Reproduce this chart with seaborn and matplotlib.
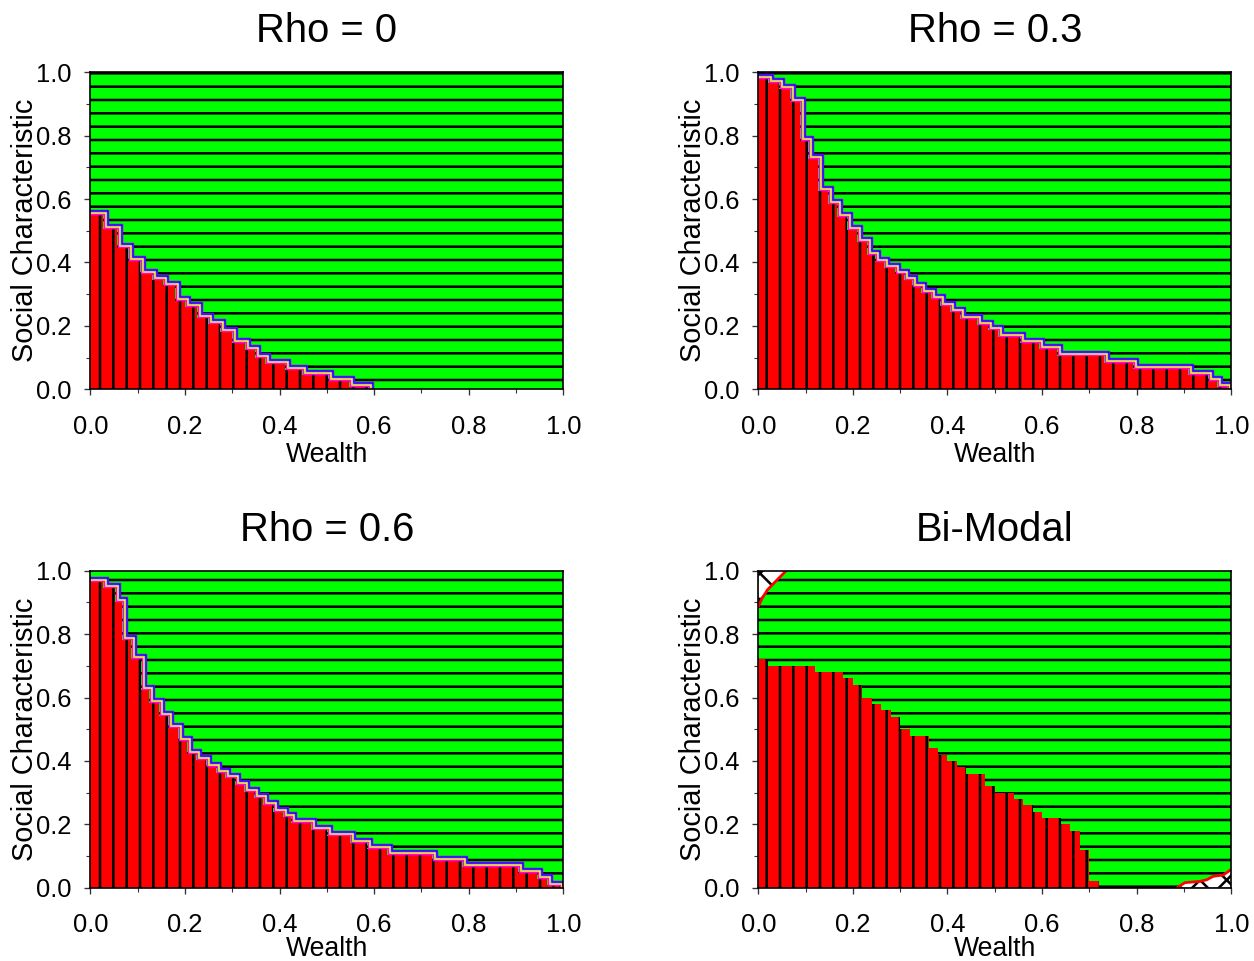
import numpy as np
import matplotlib
matplotlib.use("Agg")
import matplotlib.pyplot as plt
from matplotlib.ticker import MultipleLocator
import seaborn as sns

# step edges on the Wealth axis and height of the red region on the
# Social Characteristic axis
rho0_edges = [0, 0.027, 0.056, 0.080, 0.105, 0.130, 0.154, 0.179, 0.200, 0.225, 0.249,
              0.274, 0.299, 0.327, 0.348, 0.369, 0.411, 0.447, 0.503, 0.546, 0.588]
rho0_heights = [0.55, 0.505, 0.445, 0.405, 0.365, 0.345, 0.325, 0.28, 0.26, 0.225,
                0.205, 0.18, 0.145, 0.125, 0.10, 0.08, 0.06, 0.045, 0.025, 0.008]

rho3_edges = [0, 0.02, 0.044, 0.067, 0.088, 0.106, 0.127, 0.148, 0.166, 0.187, 0.208,
              0.229, 0.247, 0.266, 0.288, 0.307, 0.324, 0.345, 0.366, 0.384, 0.405,
              0.426, 0.462, 0.486, 0.507, 0.553, 0.593, 0.631, 0.730, 0.793, 0.909,
              0.951, 0.969, 0.990]
rho3_heights = [0.98, 0.965, 0.946, 0.905, 0.783, 0.726, 0.626, 0.584, 0.544, 0.503,
                0.464, 0.424, 0.403, 0.384, 0.363, 0.344, 0.324, 0.303, 0.284, 0.263,
                0.243, 0.222, 0.203, 0.187, 0.166, 0.145, 0.127, 0.105, 0.084, 0.064,
                0.045, 0.026, 0.008]

rho6_edges = [0, 0.027, 0.052, 0.066, 0.087, 0.108, 0.125, 0.145, 0.164, 0.185, 0.205,
              0.224, 0.245, 0.266, 0.284, 0.305, 0.325, 0.346, 0.365, 0.386, 0.407,
              0.425, 0.466, 0.501, 0.549, 0.584, 0.627, 0.722, 0.785, 0.905, 0.944,
              0.965, 0.990]
rho6_heights = [0.965, 0.944, 0.902, 0.781, 0.721, 0.624, 0.582, 0.543, 0.503, 0.463,
                0.422, 0.403, 0.382, 0.361, 0.345, 0.324, 0.301, 0.282, 0.261, 0.240,
                0.222, 0.203, 0.182, 0.164, 0.142, 0.122, 0.103, 0.084, 0.064, 0.045,
                0.027, 0.006]

bimodal_edges = [0, 0.02, 0.12, 0.18, 0.20, 0.22, 0.24, 0.26, 0.28, 0.30, 0.32, 0.36,
                 0.38, 0.40, 0.42, 0.44, 0.48, 0.50, 0.54, 0.56, 0.58, 0.60, 0.64,
                 0.66, 0.68, 0.70, 0.72]
bimodal_heights = [0.72, 0.70, 0.68, 0.66, 0.64, 0.60, 0.58, 0.56, 0.54, 0.50, 0.48,
                   0.44, 0.42, 0.40, 0.38, 0.36, 0.32, 0.30, 0.28, 0.26, 0.24, 0.22,
                   0.20, 0.18, 0.12, 0.02]

# the two cross-hatched corners of the bi-modal panel
corner_tl_x = [0, 0.007, 0.019, 0.039, 0.059]
corner_tl_y = [0.886, 0.91, 0.939, 0.97, 1.0]
corner_br_x = [0.885, 0.902, 0.934, 0.948, 0.962, 0.983, 1.0]
corner_br_y = [0, 0.016, 0.02, 0.025, 0.036, 0.04, 0.058]

titles = ["Rho = 0", "Rho = 0.3", "Rho = 0.6", "Bi-Modal"]

sns.set_style("ticks")
plt.rcParams['font.family'] = ['Liberation Sans', 'DejaVu Sans']
plt.rcParams['text.color'] = 'black'
plt.rcParams['axes.labelcolor'] = 'black'
plt.rcParams['xtick.color'] = 'black'
plt.rcParams['ytick.color'] = 'black'
plt.rcParams['hatch.linewidth'] = 2.3
plt.rcParams['hatch.color'] = 'black'

W, H, DPI = 1254, 961, 80
fig = plt.figure(figsize=(W / DPI, H / DPI), dpi=DPI)

# contour lines around the red region: colour, offset in pixels
outline = [('#7f00ff', 5), ('#0000ff', 4), ('#b4b4b4', 3), ('#ffff00', 2), ('#ff00ff', 1)]


def panel(x0, y0, title, edges, heights, lines=True, xlab_y=-0.165):
    ax = fig.add_axes([x0 / W, 1 - (y0 + 317) / H, 473 / W, 317 / H])
    ax.axhspan(0, 1, facecolor='#00ff00', edgecolor='black', hatch='-', lw=0, zorder=0)
    centers = [(a + b) / 2 for a, b in zip(edges[:-1], edges[1:])]
    sns.histplot(x=centers, weights=list(heights), bins=list(edges), element='step',
                 fill=True, color='red', alpha=1, edgecolor='black', linewidth=0,
                 hatch='|', ax=ax, zorder=1)
    if lines:
        e = np.asarray(edges)
        h = np.asarray(heights)
        for col, n in outline:
            dx, dy = n / 473, n / 317
            xs = np.concatenate([[0], e[1:] + dx])
            ys = np.concatenate([h + dy, [0]])
            sns.lineplot(x=xs, y=ys, color=col, lw=1.3, drawstyle='steps-post',
                         sort=False, estimator=None, ax=ax, zorder=2)
    ax.set_xlim(0, 1)
    ax.set_ylim(0, 1)
    ax.xaxis.set_major_locator(MultipleLocator(0.2))
    ax.xaxis.set_minor_locator(MultipleLocator(0.1))
    ax.yaxis.set_major_locator(MultipleLocator(0.2))
    ax.yaxis.set_minor_locator(MultipleLocator(0.1))
    ax.tick_params(which='major', length=5, width=1.2, color='#333333', labelsize=23)
    ax.tick_params(which='minor', length=3.2, width=1.0, color='#333333')
    ax.tick_params(axis='y', pad=12)
    ax.tick_params(axis='x', pad=18)
    for s in ax.spines.values():
        s.set_color('black')
        s.set_linewidth(1.5)
        s.set_zorder(5)
    ax.set_title(title, fontsize=36, pad=27)
    ax.set_xlabel("Wealth", fontsize=24)
    ax.set_ylabel("Social Characteristic", fontsize=26)
    ax.xaxis.set_label_coords(0.5, xlab_y)
    ax.yaxis.set_label_coords(-0.108, 0.5)
    return ax


panel(90.3, 72.3, titles[0], rho0_edges, rho0_heights)
panel(758.3, 72.3, titles[1], rho3_edges, rho3_heights)
panel(90.3, 570.7, titles[2], rho6_edges, rho6_heights, xlab_y=-0.152)
ax4 = panel(758.3, 570.7, titles[3], bimodal_edges, bimodal_heights, lines=False,
            xlab_y=-0.152)

ax4.fill_between(corner_tl_x, corner_tl_y, 1, facecolor='white', edgecolor='black',
                 hatch='x', lw=0, zorder=3)
sns.lineplot(x=corner_tl_x, y=corner_tl_y, color='red', lw=2.5, sort=False,
             estimator=None, ax=ax4, zorder=4)
ax4.fill_between(corner_br_x, 0, corner_br_y, facecolor='white', edgecolor='black',
                 hatch='x', lw=0, zorder=3)
sns.lineplot(x=corner_br_x, y=corner_br_y, color='red', lw=2.5, sort=False,
             estimator=None, ax=ax4, zorder=4)

fig.savefig("out.png", dpi=DPI)
